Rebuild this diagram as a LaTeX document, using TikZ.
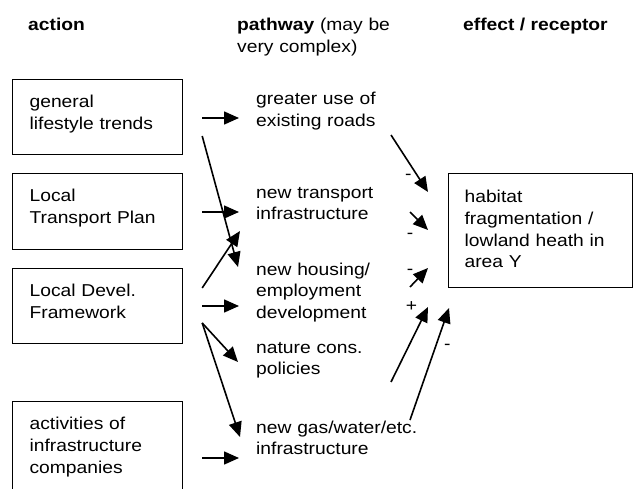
\documentclass[tikz,border=0pt]{standalone}
\usepackage{fontspec}
\setmainfont{Liberation Sans}[FakeStretch=1.12]
\usetikzlibrary{arrows.meta}
\tikzset{
  actbox/.style={draw, line width=1.2pt, anchor=north west, text width=136pt, inner xsep=17pt, inner ysep=0pt, align=left, text height=28pt, text depth=47pt},
  habbox/.style={draw, line width=1.2pt, anchor=north west, text width=152pt, inner xsep=16pt, inner ysep=0pt, align=left, text height=29pt, text depth=85pt},
  pathtext/.style={anchor=base west, inner sep=0pt, text width=175pt, align=left},
  flow/.style={line width=1.6pt, -{Triangle[length=15pt,width=13pt]}},
  sign/.style={inner sep=0pt}
}
\begin{document}
\begin{tikzpicture}[x=1pt, y=-1pt, font=\fontsize{17.2}{21.7}\selectfont]
  \useasboundingbox (0,0) rectangle (634,489);
  % column heads
  \node[anchor=base west, inner sep=0pt] (hact) at (28,31) {\textbf{action}};
  \node[pathtext] (hpath) at (237,31) {\textbf{pathway} (may be\\very complex)};
  \node[anchor=base west, inner sep=0pt] (heff) at (463,31) {\textbf{effect / receptor}};
  % actions
  \node[actbox] (life) at (12,79) {general\\lifestyle trends};
  \node[actbox, text depth=48pt] (ltp) at (12,173) {Local\\Transport Plan};
  \node[actbox] (ldf) at (12,268) {Local Devel.\\Framework};
  \node[actbox, text depth=62pt] (infra) at (12,401) {activities of\\infrastructure\\companies};
  % pathways
  \node[pathtext] (roads) at (256,105) {greater use of\\existing roads};
  \node[pathtext] (trans) at (256,198) {new transport\\infrastructure};
  \node[pathtext] (house) at (256,275) {new housing/\\employment\\development};
  \node[pathtext] (nature) at (256,353) {nature cons.\\policies};
  \node[pathtext] (gas) at (256,433) {new gas/water/etc.\\infrastructure};
  % receptor
  \node[habbox] (hab) at (448,173) {habitat\\fragmentation /\\lowland heath in\\area Y};
  % action -> pathway
  \draw[flow] ([shift={(19,39)}]life.north east) -- ([shift={(-17,13)}]roads.base west);
  \draw[flow] ([shift={(19,57)}]life.north east) -- ([shift={(-18,-8)}]house.base west);
  \draw[flow] ([shift={(19,39)}]ltp.north east) -- ([shift={(-17,14)}]trans.base west);
  \draw[flow] ([shift={(19,20)}]ldf.north east) -- ([shift={(-16,33)}]trans.base west);
  \draw[flow] ([shift={(19,38)}]ldf.north east) -- ([shift={(-17,31)}]house.base west);
  \draw[flow] ([shift={(19,55)}]ldf.north east) -- ([shift={(-18,9)}]nature.base west);
  \draw[flow] ([shift={(19,55)}]ldf.north east) -- ([shift={(-16,4)}]gas.base west);
  \draw[flow] ([shift={(19,57)}]infra.north east) -- ([shift={(-17,25)}]gas.base west);
  % pathway -> receptor
  \draw[flow] ([shift={(135,30)}]roads.base west) -- node[sign, pos=0.74, left=6pt] (s1) {-} ([shift={(-20,19)}]hab.north west);
  \draw[flow] ([shift={(154,14)}]trans.base west) -- node[sign, pos=0, below=20pt] (s2) {-} ([shift={(-20,57)}]hab.north west);
  \draw[flow] ([shift={(154,12)}]house.base west) -- node[sign, pos=0, above=12pt] (s3) {-} ([shift={(-20,95)}]hab.north west);
  \draw[flow] ([shift={(135,29)}]nature.base west) -- node[sign, pos=1, left=10pt] (s4) {+} ([shift={(-20,134)}]hab.north west);
  \draw[flow] ([shift={(154,-13)}]gas.base west) -- node[sign, pos=0.65, right=8pt] (s5) {-} ([shift={(1,135)}]hab.north west);
\end{tikzpicture}
\end{document}
